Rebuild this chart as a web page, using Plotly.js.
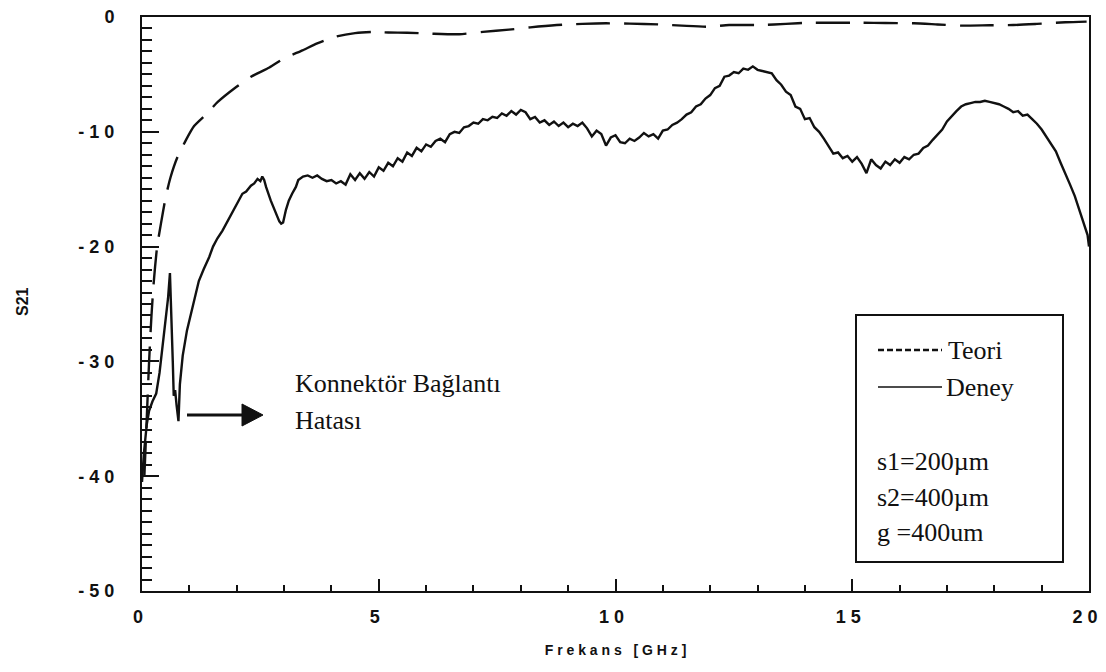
<!DOCTYPE html>
<html>
<head>
<meta charset="utf-8">
<script src="https://cdn.plot.ly/plotly-3.0.1.min.js"></script>
<style>
html,body{margin:0;padding:0;background:#fff;}
#chart{width:1106px;height:672px;}
</style>
</head>
<body>
<div id="chart"></div>
<script>
// ---- Data ----
const freqTheory = [0.05,0.1,0.15,0.2,0.25,0.32,0.4,0.5,0.6,0.75,0.93,1.1,1.35,1.6,1.99,2.3,2.69,3.0,3.39,3.7,4.1,4.5,4.87,5.2,5.6,6.1,6.7,7.2,7.75,8.2,8.76,9.3,9.8,10.3,10.9,11.4,11.96,12.4,13.1,13.6,14.1,14.6,15.2,15.7,16.3,16.8,17.3,17.9,18.4,18.9,19.5,19.95];
const s21Theory = [-40,-35,-30,-26,-23,-20,-18,-15.7,-14,-12.2,-10.7,-9.5,-8.5,-7.4,-6.1,-5.2,-4.4,-3.6,-2.9,-2.3,-1.7,-1.4,-1.3,-1.35,-1.37,-1.45,-1.5,-1.3,-1.1,-0.9,-0.7,-0.6,-0.55,-0.58,-0.64,-0.75,-0.85,-0.7,-0.7,-0.6,-0.5,-0.5,-0.5,-0.52,-0.55,-0.65,-0.75,-0.72,-0.7,-0.6,-0.46,-0.4];

const freqExp = [0.0,0.04,0.1,0.15,0.22,0.3,0.37,0.43,0.5,0.55,0.59,0.62,0.65,0.67,0.7,0.73,0.77,0.8,0.86,0.95,1.05,1.2,1.3,1.42,1.5,1.59,1.7,1.78,1.87,1.95,2.05,2.12,2.2,2.3,2.37,2.44,2.5,2.54,2.58,2.62,2.72,2.83,2.9,2.94,2.98,3.04,3.1,3.17,3.25,
3.3,3.4,3.5,3.6,3.7,3.8,3.9,4.0,4.1,4.2,4.3,4.4,4.5,4.6,4.7,4.8,4.9,5.0,5.1,5.2,5.3,5.4,5.5,5.6,5.7,5.8,5.9,6.0,6.1,6.2,6.3,6.4,6.5,6.6,6.7,6.8,6.9,7.0,7.1,7.2,7.3,7.4,7.5,7.6,7.7,7.8,7.9,8.0,8.1,8.2,8.3,8.4,8.5,8.6,8.7,8.8,8.9,9.0,9.1,9.2,9.3,9.4,9.5,9.6,9.7,9.8,9.9,10.0,10.1,10.2,10.3,10.4,10.5,10.6,10.7,10.8,10.9,11.0,11.1,11.2,11.3,11.4,11.5,11.6,11.7,11.8,11.9,12.0,12.1,12.2,12.3,12.4,12.5,12.6,12.7,12.8,12.9,13.0,13.1,13.2,13.3,13.4,13.5,13.6,13.7,13.8,13.9,14.0,14.1,14.2,14.3,14.4,14.5,14.6,14.7,14.8,14.9,15.0,15.1,15.2,15.3,15.4,15.5,15.6,15.7,15.8,15.9,16.0,16.1,16.2,16.3,16.4,16.5,16.6,16.7,16.8,16.9,17.0,17.1,17.2,17.3,17.4,17.5,17.6,17.7,17.8,17.9,18.0,18.1,18.2,18.3,18.4,18.5,18.6,18.7,18.8,18.9,19.0,19.1,19.2,19.3,19.4,19.5,19.6,19.7,19.8,19.9,19.97,20.0];
const s21Exp = [-40.5,-38,-35.5,-34.3,-33.5,-32.8,-31,-29,-26.5,-24.5,-22.3,-25.5,-30,-33,-32.5,-33.8,-35.2,-32,-29.5,-27.3,-25.5,-23,-22,-20.9,-20,-19.3,-18.6,-18,-17.2,-16.7,-15.9,-15.4,-15.2,-14.7,-14.5,-14.1,-14.3,-13.9,-14.2,-14.8,-16,-17.1,-17.8,-18,-17.9,-16.8,-16,-15.4,-14.8,
-14.2,-13.9,-13.8,-14.0,-13.8,-14.1,-14.3,-14.2,-14.5,-14.3,-14.6,-13.7,-14.2,-13.6,-14.1,-13.5,-13.9,-13.1,-13.4,-12.7,-13.0,-12.3,-12.6,-11.8,-12.1,-11.4,-11.7,-11.1,-11.3,-10.8,-10.6,-10.9,-10.2,-10.0,-10.1,-9.6,-9.5,-9.2,-9.3,-8.9,-9.0,-8.7,-8.8,-8.4,-8.6,-8.2,-8.5,-8.1,-8.3,-8.9,-8.7,-9.2,-9.0,-9.4,-9.1,-9.5,-9.2,-9.6,-9.3,-9.5,-9.2,-9.7,-10.4,-9.9,-10.2,-11.2,-10.5,-10.3,-10.9,-11.0,-10.6,-10.8,-10.5,-10.1,-10.4,-10.2,-10.6,-9.9,-9.8,-9.4,-9.2,-8.9,-8.5,-8.3,-7.8,-7.6,-7.1,-6.8,-6.2,-6.0,-5.2,-5.1,-4.8,-4.9,-4.5,-4.6,-4.3,-4.6,-4.7,-4.8,-4.9,-5.5,-5.9,-6.5,-6.8,-7.8,-8.0,-8.9,-8.8,-9.6,-10.0,-10.6,-11.3,-11.9,-11.8,-12.3,-12.1,-12.6,-12.2,-12.8,-13.6,-12.4,-12.9,-13.2,-12.6,-12.9,-12.4,-12.7,-12.2,-12.4,-12.0,-11.9,-11.4,-11.2,-10.7,-10.2,-9.8,-9.1,-8.6,-8.2,-7.8,-7.6,-7.5,-7.4,-7.4,-7.3,-7.4,-7.5,-7.6,-7.8,-8.0,-8.3,-8.2,-8.6,-8.5,-8.9,-9.3,-9.8,-10.4,-11.0,-11.7,-12.7,-13.6,-14.6,-15.6,-16.8,-18.0,-19.0,-20.0];

const xTickVals = [0,5,10,15,20];
const xTickText = ['0','5','1 0','1 5','2 0'];
const yTickVals = [0,-10,-20,-30,-40,-50];
const yTickText = ['0','- 1 0','- 2 0','- 3 0','- 4 0','- 5 0'];

const legendTheory = 'Teori';
const legendExp = 'Deney';
const paramLines = ['s1=200µm','s2=400µm','g =400um'];
const noteLines = ['Konnektör Bağlantı','Hatası'];

// ---- Layout helpers (pixel -> paper) ----
const L = 142, R = 1089, T = 17, B = 591;
const X = p => (p - L) / (R - L);
const Y = p => (B - p) / (B - T);

const serif = 'Liberation Serif, Times New Roman, serif';
const sans = 'Liberation Sans, Arial, sans-serif';

const traces = [
  {x: freqTheory, y: s21Theory, mode: 'lines', name: legendTheory,
   line: {color: '#111', width: 2.4, dash: '34px,14px', shape: 'spline', smoothing: 0.6}},
  {x: freqExp, y: s21Exp, mode: 'lines', name: legendExp,
   line: {color: '#111', width: 2.4}}
];

const shapes = [
  // legend box
  {type: 'rect', xref: 'paper', yref: 'paper', x0: X(856), x1: X(1063), y0: Y(315), y1: Y(562),
   line: {color: '#111', width: 2}, fillcolor: 'rgba(255,255,255,1)'},
  {type: 'line', xref: 'paper', yref: 'paper', x0: X(878), x1: X(942), y0: Y(350), y1: Y(350),
   line: {color: '#111', width: 2.5, dash: '6px,3px'}},
  {type: 'line', xref: 'paper', yref: 'paper', x0: X(878), x1: X(942), y0: Y(387), y1: Y(387),
   line: {color: '#111', width: 1.5}},
  // arrow
  {type: 'line', xref: 'paper', yref: 'paper', x0: X(187), x1: X(245), y0: Y(415), y1: Y(415),
   line: {color: '#111', width: 3}},
  {type: 'path', xref: 'paper', yref: 'paper',
   path: `M ${X(242)} ${Y(404)} L ${X(263)} ${Y(415)} L ${X(242)} ${Y(426)} Z`,
   fillcolor: '#111', line: {color: '#111', width: 1}}
];

const ann = (text, px, py, size, extra) => Object.assign({
  text, xref: 'paper', yref: 'paper', x: X(px), y: Y(py), xanchor: 'left', yanchor: 'middle',
  showarrow: false, font: {family: serif, size: size, color: '#111'}
}, extra || {});

const annotations = [
  ann(legendTheory, 946, 350, 26),
  ann(legendExp, 944, 387, 26),
  ann(paramLines[0], 875, 461, 26),
  ann(paramLines[1], 875, 497, 26),
  ann(paramLines[2], 875, 532, 26),
  ann(noteLines[0], 293, 383, 26),
  ann(noteLines[1], 293, 420, 26),
  {text: '<b>S21</b>', xref: 'paper', yref: 'paper', x: X(22), y: Y(302), xanchor: 'center', yanchor: 'middle',
   textangle: -90, showarrow: false, font: {family: sans, size: 16, color: '#111'}}
];

const layout = {
  width: 1106, height: 672,
  margin: {l: L, r: 1106 - R, t: T, b: 672 - B, pad: 0},
  paper_bgcolor: '#fff', plot_bgcolor: 'rgba(0,0,0,0)',
  showlegend: false,
  xaxis: {
    range: [0, 20], tickmode: 'array', tickvals: xTickVals, ticktext: xTickText,
    ticks: 'inside', ticklen: 12, tickwidth: 2, tickcolor: '#111',
    minor: {tickmode: 'linear', tick0: 0, dtick: 1, ticks: 'inside', ticklen: 6, tickwidth: 2, tickcolor: '#111'},
    showline: true, linecolor: '#111', linewidth: 2, mirror: true,
    showgrid: false, zeroline: false, ticklabelstandoff: 8, ticklabelshift: -4,
    tickfont: {family: sans, size: 18, color: '#111', weight: 'bold'},
    title: {text: '<b>F r e k a n s   [ G H z ]</b>', font: {family: sans, size: 14, color: '#111'}, standoff: 20}
  },
  yaxis: {
    range: [-50, 0], tickmode: 'array', tickvals: yTickVals, ticktext: yTickText,
    ticks: 'inside', ticklen: 17, tickwidth: 2, tickcolor: '#111',
    minor: {tickmode: 'linear', tick0: 0, dtick: 1, ticks: 'inside', ticklen: 10, tickwidth: 2, tickcolor: '#111'},
    showline: true, linecolor: '#111', linewidth: 2, mirror: true,
    showgrid: false, zeroline: false, ticklabelstandoff: 22,
    tickfont: {family: sans, size: 18, color: '#111', weight: 'bold'}
  },
  shapes, annotations
};

Plotly.newPlot('chart', traces, layout, {displayModeBar: false, staticPlot: true});
</script>
</body>
</html>
